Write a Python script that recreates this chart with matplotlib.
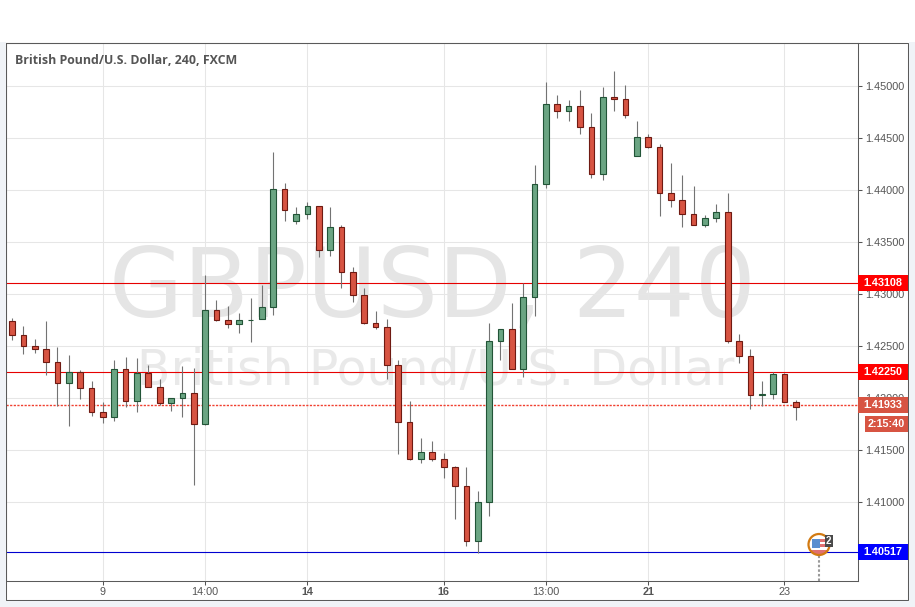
import numpy as np
import matplotlib
matplotlib.use("Agg")
import matplotlib.pyplot as plt
from matplotlib.patches import Rectangle, Circle
from matplotlib.transforms import Affine2D

plt.rcParams['font.family'] = ['Liberation Sans', 'DejaVu Sans']

# 4h candles
opens = [1.42740, 1.42605, 1.42500, 1.42471, 1.42346, 1.42144, 1.42250, 1.42096, 1.41865, 1.41817,
         1.42279, 1.41971, 1.42234, 1.42106, 1.41952, 1.42000, 1.42048, 1.41750, 1.42846, 1.42750,
         1.42711, 1.42744, 1.42759, 1.42875, 1.44009, 1.43702, 1.43769, 1.43846, 1.43423, 1.43644,
         1.43211, 1.42990, 1.42721, 1.42683, 1.42317, 1.41769, 1.41413, 1.41481, 1.41413, 1.41336,
         1.41154, 1.40625, 1.40999, 1.42548, 1.42663, 1.42279, 1.42971, 1.44057, 1.44827, 1.44759,
         1.44807, 1.44605, 1.44154, 1.44894, 1.44875, 1.44327, 1.44509, 1.44413, 1.43971, 1.43904,
         1.43769, 1.43663, 1.43731, 1.43788, 1.42548, 1.42404, 1.42029, 1.42038, 1.42231, 1.41961]
closes = [1.42605, 1.42500, 1.42471, 1.42346, 1.42144, 1.42250, 1.42096, 1.41865, 1.41817, 1.42279,
          1.41971, 1.42234, 1.42106, 1.41952, 1.42000, 1.42048, 1.41750, 1.42846, 1.42750, 1.42711,
          1.42750, 1.42750, 1.42875, 1.44009, 1.43807, 1.43769, 1.43846, 1.43423, 1.43644, 1.43211,
          1.42990, 1.42721, 1.42683, 1.42317, 1.41769, 1.41413, 1.41481, 1.41413, 1.41336, 1.41154,
          1.40625, 1.40999, 1.42548, 1.42663, 1.42279, 1.42971, 1.44057, 1.44827, 1.44759, 1.44807,
          1.44605, 1.44154, 1.44894, 1.44875, 1.44721, 1.44509, 1.44413, 1.43971, 1.43904, 1.43769,
          1.43663, 1.43731, 1.43788, 1.42548, 1.42404, 1.42029, 1.42038, 1.42231, 1.41961, 1.41913]
highs = [1.42772, 1.42695, 1.42561, 1.42743, 1.42484, 1.42407, 1.42263, 1.42157, 1.41964, 1.42359,
         1.42397, 1.42378, 1.42320, 1.42176, 1.42000, 1.42301, 1.42282, 1.43176, 1.42936, 1.42878,
         1.42820, 1.42964, 1.43089, 1.44359, 1.44061, 1.43836, 1.43878, 1.43846, 1.43836, 1.43666,
         1.43253, 1.43051, 1.42830, 1.42753, 1.42368, 1.41965, 1.41618, 1.41580, 1.41465, 1.41349,
         1.41330, 1.41106, 1.42721, 1.42663, 1.42907, 1.43106, 1.44243, 1.45032, 1.44907, 1.44859,
         1.44955, 1.44734, 1.44993, 1.45138, 1.45003, 1.44666, 1.44541, 1.44445, 1.44253, 1.44138,
         1.44032, 1.43753, 1.43859, 1.43965, 1.42610, 1.42474, 1.42166, 1.42250, 1.42240, 1.41981]
lows = [1.42554, 1.42420, 1.42429, 1.42218, 1.41920, 1.41727, 1.41987, 1.41823, 1.41756, 1.41775,
        1.41910, 1.41862, 1.42106, 1.41929, 1.41872, 1.41814, 1.41160, 1.41737, 1.42737, 1.42670,
        1.42622, 1.42535, 1.42759, 1.42795, 1.43698, 1.43670, 1.43718, 1.43352, 1.43362, 1.43054,
        1.42920, 1.42708, 1.42660, 1.42176, 1.41458, 1.41400, 1.41372, 1.41391, 1.41227, 1.40833,
        1.40574, 1.40509, 1.40862, 1.42368, 1.42279, 1.42198, 1.42785, 1.44022, 1.44686, 1.44666,
        1.44535, 1.44118, 1.44090, 1.44753, 1.44695, 1.44327, 1.44400, 1.43747, 1.43830, 1.43638,
        1.43663, 1.43638, 1.43689, 1.42525, 1.42330, 1.41888, 1.41923, 1.41987, 1.41961, 1.41785]

x_ticks = [8, 17, 26, 38, 47, 56, 68]
x_labels = ['9', '14:00', '14', '16', '13:00', '21', '23']
x_bold = ['14', '16', '21']
y_ticks = [1.41, 1.415, 1.42, 1.425, 1.43, 1.435, 1.44, 1.445, 1.45]

red_levels = [1.43108, 1.42250]
blue_level = 1.40517
last_price = 1.41933
countdown = '2:15:40'

fig = plt.figure(figsize=(9.15, 6.07), dpi=100, facecolor='white')
ax = fig.add_axes([6 / 915, 26 / 607, 852 / 915, 538 / 607])
ax.set_xlim(-0.528, 74.47)
ax.set_ylim(1.402385, 1.454115)

# top-left pixel coords for the bits around the chart
px = Affine2D().scale(1, -1).translate(0, 607)


def box(x0, y0, x1, y1, **kw):
    r = Rectangle((x0, y0), x1 - x0, y1 - y0, transform=px, **kw)
    fig.add_artist(r)
    return r


page = '#f0f3f7'
box(0, 42, 6, 607, color=page, lw=0)
box(908.5, 42, 915, 607, color=page, lw=0)
box(0, 600.5, 915, 607, color=page, lw=0)
frame = '#5a5a5a'
box(6, 43, 908, 600, fill=False, ec=frame, lw=0.75, zorder=0.5)

# watermark
ax.text(432, 316.5, 'GBPUSD, 240', fontsize=69, family='DejaVu Sans', color='#e5e5e5', ha='center', va='baseline',
        transform=px, zorder=0.3)
ax.text(435.5, 385, 'British Pound/U.S. Dollar', fontsize=35.2, family='DejaVu Sans', color='#e9e9e9', ha='center', va='baseline',
        transform=px, zorder=0.3)

ax.set_xticks(x_ticks)
ax.set_xticklabels(x_labels)
for lab in ax.get_xticklabels():
    if lab.get_text() in x_bold:
        lab.set_fontweight('bold')
ax.set_yticks(y_ticks)
ax.set_yticklabels(['%.5f' % v for v in y_ticks])
ax.yaxis.tick_right()
ax.tick_params(axis='both', length=3, width=0.75, color='#555555', labelcolor='#555555', labelsize=7.8)
ax.tick_params(axis='y', pad=2.4)
ax.tick_params(axis='x', pad=1.5)
ax.grid(True, color='#e6e6e6', lw=0.75, zorder=0.5)
ax.set_axisbelow(True)
ax.patch.set_alpha(0)
for s in ax.spines.values():
    s.set_color(frame)
    s.set_linewidth(0.75)

# level lines
for lv in red_levels:
    ax.axhline(lv, color='#e60000', lw=0.8, zorder=1.5)
ax.axhline(blue_level, color='#0000d0', lw=0.8, zorder=1.5)
ax.axhline(last_price, color='#f04030', lw=1, ls=(0, (1.6, 1)), zorder=1.5)

# candles
idx = np.arange(len(opens))
opens = np.array(opens)
closes = np.array(closes)
up = closes >= opens
ax.vlines(idx, lows, highs, color='#737373', lw=0.8, zorder=2)
ax.bar(idx[up], (closes - opens)[up], bottom=opens[up], width=0.5, color='#6ba583', edgecolor='#225437', lw=0.8, zorder=3)
ax.bar(idx[~up], (opens - closes)[~up], bottom=closes[~up], width=0.5, color='#d75442', edgecolor='#6f1a12', lw=0.8, zorder=3)

# price tags on the scale
ytr = ax.get_yaxis_transform()
tag_x0 = 1.0
tag_w = 50 / 852
tag_h = 16 / 10400


def tag(price, text, color, weight='bold'):
    ax.add_patch(Rectangle((tag_x0, price - tag_h / 2), tag_w, tag_h, transform=ytr, color=color, lw=0, clip_on=False, zorder=5))
    ax.text(tag_x0 + tag_w / 2, price, text, transform=ytr, color='white', fontsize=7.8, fontweight=weight,
            ha='center', va='center', clip_on=False, zorder=6)


for lv in red_levels:
    tag(lv, '%.5f' % lv, '#ff0000')
tag(blue_level, '%.5f' % blue_level, '#0000ff')
tag(last_price, '%.5f' % last_price, '#d75442')
box(865, 416, 908, 431.7, color='#d75442', lw=0, zorder=5)
fig.text(886.5 / 915, 1 - 424 / 607, countdown, color='white', fontsize=7.8, fontweight='bold', ha='center', va='center', zorder=6)

# calendar event marker
ax.plot([71, 71], [1.4024, 1.4049], color='#9a9a9a', lw=1.5, ls=(0, (1.2, 1.0)), zorder=4)
badge = Circle((819, 544.5), 10.5, transform=px, fc='white', ec='none', zorder=9)
fig.add_artist(badge)
for rect in (box(820, 539, 827, 541.5, color='#e07070', lw=0, zorder=9.5),
             box(820, 544, 827, 547, color='#e07070', lw=0, zorder=9.5),
             box(811, 550, 827, 554, color='#e07070', lw=0, zorder=9.5),
             box(812, 539, 820, 548, color='#5a8fd0', lw=0, zorder=9.6)):
    rect.set_clip_path(badge)
fig.add_artist(Circle((819, 544.5), 10.5, transform=px, fc='none', ec='#d27a12', lw=1.6, zorder=9.8))
box(825, 535, 832.5, 547, color='#4a4a4a', lw=0, zorder=10)
fig.text(828.8 / 915, 1 - 541 / 607, '2', color='white', fontsize=7, fontweight='bold', ha='center', va='center', zorder=11)

ax.text(15, 60, 'British Pound/U.S. Dollar, 240, FXCM', transform=px, fontsize=8.9, fontweight='bold', family='Open Sans',
        color='#555555', ha='left', va='center', zorder=6)

plt.savefig('out.png', dpi=100)
